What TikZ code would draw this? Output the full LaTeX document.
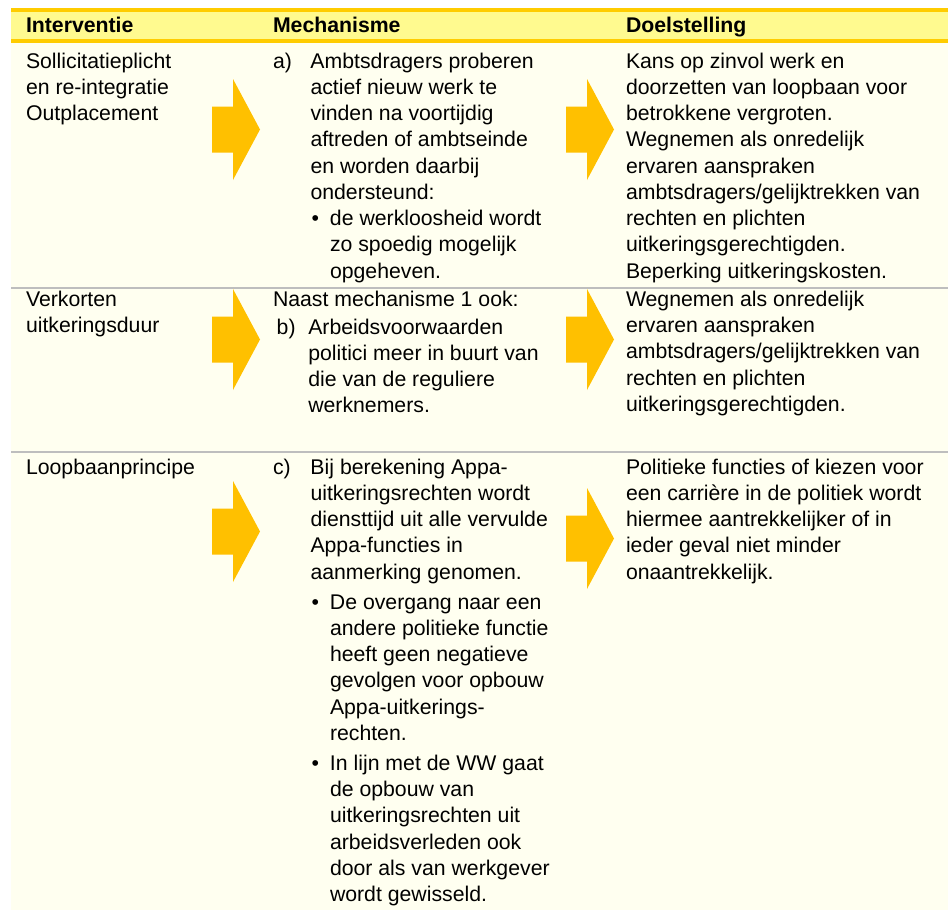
\documentclass[tikz,border=0pt]{standalone}
\usepackage{fontspec}
\setmainfont{Liberation Sans}
\definecolor{cream}{HTML}{FFFFF0}
\definecolor{hdryellow}{HTML}{FFFA8F}
\definecolor{hdrorange}{HTML}{FFCC00}
\definecolor{arrowcol}{HTML}{FFC000}
\definecolor{sepgray}{HTML}{BEBEBE}
\newcommand{\cellbox}[1]{\vtop{\fontsize{21.25pt}{26.2pt}\selectfont\baselineskip=26.2pt\lineskiplimit=-10pt #1}}
\newcommand{\lline}[1]{\hbox{#1}}
\newcommand{\hang}[2]{\hbox{\makebox[37.5pt][l]{#1}#2}}
\newcommand{\cont}[1]{\hbox{\hspace*{37.5pt}#1}}
\newcommand{\bul}[1]{\hbox{\hspace*{37.5pt}\makebox[19.5pt][l]{\hspace{1pt}•}#1}}
\newcommand{\bcont}[1]{\hbox{\hspace*{57pt}#1}}
\tikzset{
  txt/.style={anchor=base west, inner sep=0pt, outer sep=0pt},
  hdr/.style={anchor=base west, inner sep=0pt, outer sep=0pt, font=\fontsize{21.25pt}{26pt}\selectfont\bfseries},
  sepline/.style={draw=sepgray, line width=2pt},
  bigarrow/.pic={\fill[arrowcol] (0,-23) -- (21,-23) -- (21,-50.5) -- (48,0) -- (21,50.5) -- (21,23) -- (0,23) -- cycle;}
}
\begin{document}
\begin{tikzpicture}[x=1pt,y=-1pt]
\useasboundingbox (0,0) rectangle (948,910);
% backgrounds
\fill[cream] (11,43) rectangle (948,910);
\fill[hdryellow] (11,10) rectangle (948,41);
\fill[hdrorange] (11,8) rectangle (948,12);
\fill[hdrorange] (11,39) rectangle (948,43);
% row separators
\coordinate (s1l) at (11,287.5); \coordinate (s1r) at (948,287.5);
\coordinate (s2l) at (11,452); \coordinate (s2r) at (948,452);
\draw[sepline] (s1l) -- (s1r);
\draw[sepline] (s2l) -- (s2r);
% arrows
\pic at (212,129.5) {bigarrow};
\pic at (566,129.5) {bigarrow};
\pic at (212,339.5) {bigarrow};
\pic at (566,339.5) {bigarrow};
\pic at (212,531.5) {bigarrow};
\pic at (566,538.5) {bigarrow};
% header
\node[hdr] (h1) at (26,32.3) {Interventie};
\node[hdr] (h2) at (273,32.3) {Mechanisme};
\node[hdr] (h3) at (626,32.3) {Doelstelling};
% row 1
\node[txt] (r1c1) at (26,68.4) {\cellbox{%
  \lline{Sollicitatieplicht}
  \lline{en re-integratie}
  \lline{Outplacement}}};
\node[txt] (r1c2) at (273,68.4) {\cellbox{%
  \hang{a)}{Ambtsdragers proberen}
  \cont{actief nieuw werk te}
  \cont{vinden na voortijdig}
  \cont{aftreden of ambtseinde}
  \cont{en worden daarbij}
  \cont{ondersteund:}
  \bul{de werkloosheid wordt}
  \bcont{zo spoedig mogelijk}
  \bcont{opgeheven.}}};
\node[txt] (r1c3) at (626,68.4) {\cellbox{%
  \lline{Kans op zinvol werk en}
  \lline{doorzetten van loopbaan voor}
  \lline{betrokkene vergroten.}
  \lline{Wegnemen als onredelijk}
  \lline{ervaren aanspraken}
  \lline{ambtsdragers/gelijktrekken van}
  \lline{rechten en plichten}
  \lline{uitkeringsgerechtigden.}
  \lline{Beperking uitkeringskosten.}}};
% row 2
\node[txt] (r2c1) at (26,306.5) {\cellbox{%
  \lline{Verkorten}
  \lline{uitkeringsduur}}};
\node[txt] (r2c2) at (273,306.5) {\cellbox{%
  \lline{Naast mechanisme 1 ook:}
  \vskip1.5pt
  \hbox{\hspace*{3.7pt}\makebox[31.6pt][l]{b)}Arbeidsvoorwaarden}
  \hbox{\hspace*{35.3pt}politici meer in buurt van}
  \hbox{\hspace*{35.3pt}die van de reguliere}
  \hbox{\hspace*{35.3pt}werknemers.}}};
\node[txt] (r2c3) at (626,306.5) {\cellbox{%
  \lline{Wegnemen als onredelijk}
  \lline{ervaren aanspraken}
  \lline{ambtsdragers/gelijktrekken van}
  \lline{rechten en plichten}
  \lline{uitkeringsgerechtigden.}}};
% row 3
\node[txt] (r3c1) at (26,474.3) {\cellbox{%
  \lline{Loopbaanprincipe}}};
\node[txt] (r3c2) at (273,474.3) {\cellbox{%
  \hang{c)}{Bij berekening Appa-}
  \cont{uitkeringsrechten wordt}
  \cont{diensttijd uit alle vervulde}
  \cont{Appa-functies in}
  \cont{aanmerking genomen.}
  \vskip4pt
  \bul{De overgang naar een}
  \bcont{andere politieke functie}
  \bcont{heeft geen negatieve}
  \bcont{gevolgen voor opbouw}
  \bcont{Appa-uitkerings-}
  \bcont{rechten.}
  \vskip4pt
  \bul{In lijn met de WW gaat}
  \bcont{de opbouw van}
  \bcont{uitkeringsrechten uit}
  \bcont{arbeidsverleden ook}
  \bcont{door als van werkgever}
  \bcont{wordt gewisseld.}}};
\node[txt] (r3c3) at (626,474.3) {\cellbox{%
  \lline{Politieke functies of kiezen voor}
  \lline{een carrière in de politiek wordt}
  \lline{hiermee aantrekkelijker of in}
  \lline{ieder geval niet minder}
  \lline{onaantrekkelijk.}}};
\end{tikzpicture}
\end{document}
